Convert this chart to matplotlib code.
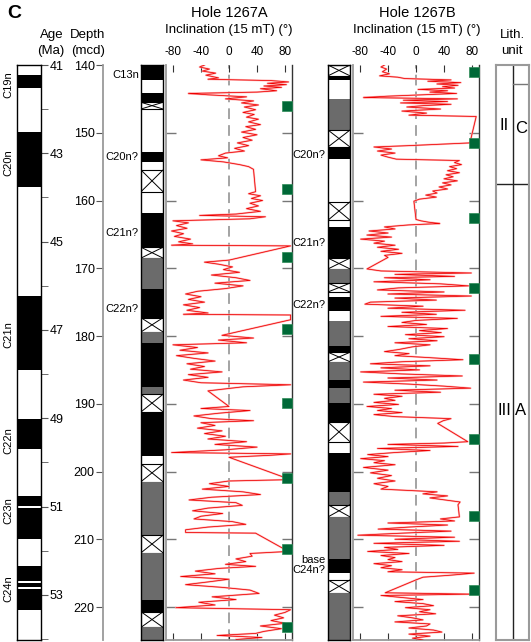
import matplotlib
matplotlib.use('Agg')
import matplotlib.pyplot as plt
from matplotlib.patches import Rectangle

plt.rcParams['font.family'] = ['Liberation Sans', 'DejaVu Sans']

# ---------------- data ----------------
# Geomagnetic polarity time scale (Ma): n = normal (black), r = reversed (white)
age_edges = [41.0, 41.23, 41.52, 42.52, 43.76, 46.23, 47.91, 49.01, 49.69, 50.76, 50.98,
             51.03, 51.73, 52.34, 52.68, 52.72, 52.81, 52.87, 53.34, 54.02]
age_kind = ['r', 'n', 'r', 'n', 'r', 'n', 'r', 'n', 'r', 'n', 'r', 'n', 'r', 'n', 'r', 'n', 'r', 'n', 'r']
age_major = [41, 43, 45, 47, 49, 51, 53]
age_minor = [42, 44, 46, 48, 50, 52, 54]
chron_names = ['C19n', 'C20n', 'C21n', 'C22n', 'C23n', 'C24n']
chron_ages = [41.45, 43.2, 47.1, 49.5, 51.1, 52.85]

depth_ticks = [140, 150, 160, 170, 180, 190, 200, 210, 220]

# Polarity columns (mcd): n normal, r reversed, u uncertain (grey), g gap
colA_edges = [140.0, 142.2, 144.1, 145.5, 146.5, 152.8, 154.3, 155.5, 158.7, 161.8, 166.9, 168.5,
              173.1, 177.3, 179.4, 181.0, 187.5, 188.6, 191.2, 197.7, 198.9, 201.5, 209.4, 212.0,
              219.0, 220.7, 223.0, 224.87]
colA_kind = ['n', 'r', 'n', 'g', 'r', 'n', 'r', 'g', 'r', 'n', 'g', 'u', 'n', 'g', 'u', 'n', 'u',
             'g', 'n', 'r', 'g', 'u', 'g', 'u', 'n', 'g', 'u']
colA_labels = ['C13n', 'C20n?', 'C21n?', 'C22n?']
colA_label_depth = [141.5, 153.6, 164.8, 176.0]

colB_edges = [140.0, 141.6, 142.2, 145.0, 149.6, 152.1, 153.9, 160.2, 162.9, 163.9, 168.5, 170.1,
              172.2, 173.5, 174.2, 176.3, 177.8, 181.5, 182.4, 183.8, 186.5, 187.7, 189.9, 192.7,
              195.6, 197.3, 203.0, 204.9, 206.7, 212.9, 215.0, 216.0, 217.9, 224.87]
colB_kind = ['g', 'n', 'r', 'u', 'g', 'n', 'r', 'g', 'r', 'n', 'g', 'u', 'g', 'r', 'n', 'r', 'u',
             'n', 'g', 'u', 'n', 'u', 'n', 'g', 'r', 'n', 'u', 'g', 'u', 'n', 'r', 'g', 'u']
colB_labels = ['C20n?', 'C21n?', 'C22n?', 'base\nC24n?']
colB_label_depth = [153.3, 166.3, 175.4, 213.8]

# Inclination (15 mT), Hole 1267A
depth_A = [140.0, 140.3, 140.6, 140.9, 141.2, 141.5, 141.9, 142.1, 142.3, 142.5, 142.7, 142.9,
           143.1, 143.3, 143.5, 143.8, 144.0, 144.2, 144.4, 144.7, 145.0, 145.3, 145.6, 145.9,
           146.2, 146.6, 147.0, 147.3, 147.7, 148.0, 148.4, 148.8, 149.1, 149.5, 149.9, 150.3,
           150.7, 151.1, 151.5, 151.9, 152.3, 152.7, 153.0, 153.4, 153.7, 154.0, 154.3, 154.7,
           155.0, 155.4, 158.7, 159.0, 159.3, 159.7, 160.0, 160.4, 160.8, 161.2, 161.6, 162.0,
           162.2, 162.4, 162.7, 163.0, 163.3, 163.7, 164.1, 164.5, 164.9, 165.3, 165.7, 166.1,
           166.4, 166.6, 166.7, 168.8, 169.1, 169.4, 169.8, 170.2, 170.6, 171.0, 171.4, 171.8,
           172.2, 172.6, 173.0, 173.4, 173.8, 174.2, 174.6, 175.0, 175.4, 175.8, 176.2, 176.6,
           176.8, 176.9, 177.6, 179.9, 180.3, 180.6, 181.0, 181.3, 181.7, 182.1, 182.5, 182.9,
           183.3, 183.7, 184.1, 184.5, 184.9, 185.3, 185.7, 186.1, 186.5, 186.9, 187.2, 187.5,
           188.1, 190.4, 190.7, 191.0, 191.4, 191.8, 192.2, 192.5, 192.8, 193.2, 193.6, 194.0,
           194.4, 194.8, 195.2, 195.6, 196.0, 196.4, 196.8, 197.2, 197.4, 197.6, 197.9, 201.2,
           201.4, 201.8, 202.2, 202.6, 203.0, 203.4, 203.8, 204.2, 204.6, 205.0, 205.4, 205.8,
           206.2, 206.6, 207.0, 207.4, 207.8, 208.2, 208.6, 209.0, 209.1, 211.8, 212.1, 212.5,
           212.9, 213.3, 213.7, 214.0, 214.3, 214.7, 215.1, 215.5, 215.9, 216.3, 216.7, 217.1,
           217.5, 218.0, 218.5, 218.9, 219.3, 219.7, 220.1, 220.4, 220.8, 221.2, 221.6, 222.0,
           222.4, 222.8, 223.2, 223.6, 223.9, 224.2, 224.5, 224.8]
inc_A = [-35, -42, -28, -38, -19, -33, -15, -30, 60, 85, 55, 82,
         50, 75, 45, 68, 40, -58, -30, 25, -5, 35, 18, 42,
         22, 38, 20, 36, 25, 42, 28, 45, 24, 38, 18, 40,
         20, 33, 12, 28, 8, 22, -5, -15, -2, -40, -8, 15,
         28, 35, 38, 28, 45, 32, 48, 30, 42, 25, 45, 10,
         -42, 52, 30, -80, -58, -75, -60, -82, -65, -78, -55, -72,
         -52, -82, 88, 0, -35, -15, 5, -8, 15, -25, 10, 30,
         -20, 20, -5, -45, -62, -40, -58, -35, -65, -42, -60, -30,
         -65, 88, 88, -10, 35, -15, 25, -80, -45, -70, -30, -75,
         -50, -20, -60, -35, -55, -10, -58, -30, -65, -40, 88, 20,
         -30, 0, -40, 30, -15, -50, -25, 35, -40, -20, -45, -10,
         -35, -5, -30, 25, -20, 40, -5, -82, 88, 60, 0, 88,
         0, -28, 0, -38, 20, 45, -25, -57, 10, 19, -30, -52,
         -9, -40, -50, 5, 24, -30, -62, -62, 38, 85, 30, 33,
         10, 24, -5, 38, -14, -48, -20, -69, 0, -30, -62, -10,
         30, 43, -24, 10, -43, -20, -76, 88, 80, 65, 78, 60,
         80, 45, 75, 50, 38, -17, 47, 10]

# Inclination (15 mT), Hole 1267B
depth_B = [140.0, 140.3, 140.6, 141.0, 141.3, 141.6, 141.8, 142.0, 142.2, 142.4, 142.6, 142.8,
           143.0, 143.2, 143.4, 143.6, 143.8, 144.0, 144.2, 144.4, 144.6, 144.8, 145.0, 145.2,
           145.4, 145.6, 145.8, 146.0, 146.2, 146.5, 146.8, 147.1, 147.4, 147.6, 151.5, 151.9,
           152.1, 152.4, 152.7, 153.0, 153.3, 153.6, 153.9, 154.1, 154.4, 154.7, 155.0, 155.3,
           155.6, 155.9, 156.2, 156.5, 156.8, 157.1, 157.4, 157.7, 158.0, 158.3, 158.6, 158.9,
           159.2, 159.5, 159.8, 160.1, 162.8, 163.0, 163.2, 163.4, 163.6, 163.9, 164.2, 164.5,
           164.8, 165.1, 165.4, 165.7, 166.0, 166.3, 166.6, 166.9, 167.2, 167.5, 167.8, 168.1,
           168.4, 170.1, 170.4, 170.7, 170.9, 171.2, 171.4, 171.7, 172.0, 172.3, 172.6, 172.9,
           173.2, 173.5, 173.8, 174.1, 174.4, 174.7, 175.0, 175.3, 175.6, 175.9, 176.2, 176.5,
           176.8, 177.1, 177.4, 177.7, 178.0, 178.3, 178.6, 178.9, 179.2, 179.5, 179.8, 180.1,
           180.4, 180.7, 181.0, 181.3, 181.6, 182.0, 182.3, 182.6, 182.9, 183.2, 183.5, 183.8,
           184.1, 184.4, 184.7, 185.0, 185.3, 185.6, 185.9, 186.2, 186.5, 186.8, 187.1, 187.4,
           187.7, 188.0, 188.3, 188.6, 188.9, 189.2, 189.5, 189.8, 190.1, 190.4, 190.7, 191.0,
           191.3, 191.6, 191.9, 192.2, 192.5, 192.9, 195.6, 195.8, 196.0, 196.3, 196.6, 196.9,
           197.2, 197.5, 197.8, 198.1, 198.4, 198.7, 199.0, 199.4, 199.8, 200.2, 200.6, 201.0,
           201.4, 201.8, 202.2, 202.6, 203.0, 203.3, 203.6, 203.9, 204.2, 204.5, 204.9, 206.7,
           207.0, 207.3, 207.6, 207.9, 208.2, 208.5, 208.8, 209.1, 209.4, 209.7, 210.0, 210.3,
           210.6, 210.9, 211.2, 211.5, 211.8, 212.1, 212.4, 212.7, 213.0, 213.3, 213.6, 213.9,
           214.2, 214.5, 214.8, 215.0, 215.3, 215.6, 216.0, 217.9, 218.1, 218.3, 218.6, 218.9,
           219.2, 219.5, 219.8, 220.1, 220.4, 220.7, 221.0, 221.3, 221.6, 221.9, 222.2, 222.5,
           222.8, 223.1, 223.4, 223.7, 224.0, 224.3, 224.6, 224.87]
inc_B = [-45, -50, -42, -48, -38, -52, -26, -16, 50, 17, 64, 30,
         60, 38, 55, 3, 45, 20, 58, 10, -40, -75, 59, -18,
         45, -22, 50, 10, -13, 35, -20, 15, -10, 86, 77, -10,
         -60, -35, -55, -30, -50, -40, -28, 62, 55, 65, 48, 58,
         45, 62, 43, 53, 40, 59, 38, 50, 33, 45, 24, 30,
         14, 29, 5, -3, 0, 7, 18, 34, -10, -45, -30, -67,
         -40, -70, -35, -79, -45, -60, -30, -55, -25, -50, -20, -45,
         -40, -70, -50, 79, -30, 55, -45, 20, -60, 35, 75, -25,
         -55, 40, -40, 79, -30, 29, -65, -73, 10, -40, 70, -20,
         29, -50, 59, 0, -20, 15, -40, 45, 5, 36, -15, 40,
         -10, 30, -30, 20, -5, -25, -45, -10, -30, 20, 67, -20,
         -65, 20, -50, 5, -79, -20, 66, -40, 30, -75, -10, 40,
         78, -30, 35, -60, -20, -45, -30, -60, -25, -70, -35, -55,
         -20, -60, -30, 50, 39, 31, 74, 40, -40, 60, -55, 20,
         -30, -69, -40, -79, -45, -60, -30, -75, -40, -65, -35, -55,
         -30, -60, -40, -50, 30, 10, 45, 20, 41, 63, 60, 62,
         35, 55, -40, 45, -10, -54, 50, -20, -83, 55, -30, 62,
         -60, 40, -45, -26, -69, -10, -50, -30, -40, -20, -60, -35,
         -50, -20, -40, 83, 50, 10, 0, -44, 80, -50, -20, 10,
         -30, 10, 25, -15, 20, 5, 28, -26, -5, 10, -30, 20,
         15, -10, 25, 37, -10, 20, -5, 10]

# Core-top markers (green squares)
core_A = [146.1, 158.3, 168.3, 178.9, 189.9, 200.9, 211.4, 223.0]
core_B = [141.0, 151.5, 162.6, 172.9, 183.4, 195.2, 206.6, 217.5]

# Lithologic units
lith_unit_boundary = 157.6
lith_sub_boundary = 142.8

inc_ticks = [-80, -40, 0, 40, 80]

# ---------------- layout ----------------
W, H = 531, 642
fig = plt.figure(figsize=(W / 100, H / 100), dpi=100)
Y0, Y1 = 65, 640
DEPTH_TOP, DEPTH_BOT = 140.0, 224.87
AGE_TOP, AGE_BOT = 41.0, 54.02
FS = 9


def add_ax(x0, x1, y0=Y0, y1=Y1):
    return fig.add_axes([x0 / W, 1 - y1 / H, (x1 - x0) / W, (y1 - y0) / H])


def ftext(x, y, s, **kw):
    fig.text(x / W, 1 - y / H, s, **kw)


def draw_column(ax, edges, kinds):
    ax.set_xlim(0, 1)
    ax.set_ylim(DEPTH_BOT, DEPTH_TOP)
    for d0, d1, k in zip(edges[:-1], edges[1:], kinds):
        if k == 'n':
            ax.add_patch(Rectangle((0, d0), 1, d1 - d0, fc='black', ec='none'))
        elif k == 'u':
            ax.add_patch(Rectangle((0, d0), 1, d1 - d0, fc='#6b6b6b', ec='none'))
        elif k == 'g':
            ax.add_patch(Rectangle((0, d0), 1, d1 - d0, fc='white', ec='black', lw=0.8))
            ax.plot([0, 1], [d0, d1], color='black', lw=0.7)
            ax.plot([0, 1], [d1, d0], color='black', lw=0.7)
    ax.set_xticks([])
    ax.set_yticks([])
    for s in ax.spines.values():
        s.set_color('black')
        s.set_linewidth(1.0)


def draw_incl(ax, depth, inc, cores):
    ax.set_xlim(-90, 90)
    ax.set_ylim(DEPTH_BOT, DEPTH_TOP)
    ax.axvline(0, color='#8a8a8a', lw=1.1, ls=(0, (7, 4)), zorder=1)
    ax.plot(inc, depth, color='#ffb3b3', lw=1.4, zorder=2)
    ax.plot(inc, depth, color='#ee0000', lw=0.55, zorder=3)
    ax.plot([83] * len(cores), cores, ls='none', marker='s', ms=7, mfc='#006837',
            mec='#2e8b57', mew=0.5, clip_on=False, zorder=5)
    ax.spines['top'].set_visible(False)
    ax.spines['left'].set_color('#9a9a9a')
    ax.spines['left'].set_linewidth(1.3)
    ax.spines['bottom'].set_color('#9a9a9a')
    ax.spines['bottom'].set_linewidth(1.3)
    ax.spines['right'].set_color('#333333')
    ax.spines['right'].set_linewidth(1.0)
    ax.set_xticks(inc_ticks)
    ax.set_xticklabels(['%d' % t for t in inc_ticks])
    ax.tick_params(axis='x', which='both', top=True, bottom=True, labeltop=True,
                   labelbottom=False, direction='in', length=5, color='#333333',
                   labelsize=8.5, pad=5)
    ax.set_yticks(depth_ticks[1:])
    ax.set_yticklabels([])
    ax.tick_params(axis='y', left=True, right=True, direction='in', length=7,
                   color='#777777', width=1.0)


# Age column
axg = add_ax(17, 41)
axg.set_xlim(0, 1)
axg.set_ylim(AGE_BOT, AGE_TOP)
for a0, a1, k in zip(age_edges[:-1], age_edges[1:], age_kind):
    if k == 'n':
        axg.add_patch(Rectangle((0, a0), 1, a1 - a0, fc='black', ec='none'))
axg.set_xticks([])
axg.yaxis.tick_right()
axg.set_yticks(age_major)
axg.set_yticklabels(['%d' % a for a in age_major])
axg.set_yticks(age_minor, minor=True)
axg.tick_params(axis='y', which='both', direction='out', length=5, color='#555555',
                labelsize=FS, pad=1)
for s in axg.spines.values():
    s.set_color('black')
    s.set_linewidth(1.0)
for name, a in zip(chron_names, chron_ages):
    axg.text(-0.38, a, name, rotation=90, ha='center', va='center', fontsize=8)

# Depth axis
axd = add_ax(103, 104)
axd.set_ylim(DEPTH_BOT, DEPTH_TOP)
axd.set_xticks([])
for s in ['top', 'right', 'bottom']:
    axd.spines[s].set_visible(False)
axd.spines['left'].set_color('#9a9a9a')
axd.spines['left'].set_linewidth(1.3)
axd.set_yticks(depth_ticks)
axd.set_yticklabels(['%d' % d for d in depth_ticks])
axd.tick_params(axis='y', direction='out', length=5, color='#555555', labelsize=FS, pad=1)

# Hole 1267A
axca = add_ax(141, 163)
draw_column(axca, colA_edges, colA_kind)
for lab, d in zip(colA_labels, colA_label_depth):
    axca.text(-0.1, d, lab, ha='right', va='center', fontsize=8)
axa = add_ax(166, 292)
draw_incl(axa, depth_A, inc_A, core_A)

# Hole 1267B
axcb = add_ax(328, 350)
draw_column(axcb, colB_edges, colB_kind)
for lab, d in zip(colB_labels, colB_label_depth):
    axcb.text(-0.1, d, lab, ha='right', va='center', fontsize=8, multialignment='right',
              linespacing=1.1)
axb = add_ax(353, 479)
draw_incl(axb, depth_B, inc_B, core_B)

# Lithologic units
axl = add_ax(496, 529)
axl.set_xlim(0, 1)
axl.set_ylim(DEPTH_BOT, DEPTH_TOP)
axl.set_xticks([])
axl.set_yticks([])
for s in axl.spines.values():
    s.set_color('#9a9a9a')
    s.set_linewidth(1.5)
xm = (513 - 496) / 33
axl.axvline(xm, color='#222222', lw=1.0)
axl.axhline(lith_unit_boundary, color='#222222', lw=1.0)
axl.plot([xm, 1], [lith_sub_boundary] * 2, color='#777777', lw=1.0)
axl.text(xm / 2, 149.0, 'II', ha='center', va='center', fontsize=12)
axl.text((xm + 1) / 2, 149.3, 'C', ha='center', va='center', fontsize=12)
axl.text(xm / 2, 191.0, 'III', ha='center', va='center', fontsize=12)
axl.text((xm + 1) / 2, 191.0, 'A', ha='center', va='center', fontsize=12)

# Header texts
ftext(7, 13, 'C', fontsize=14, fontweight='bold', va='center', ha='left')
ftext(64, 35, 'Age', fontsize=FS + 0.5, ha='right', va='center')
ftext(64, 51, '(Ma)', fontsize=FS + 0.5, ha='right', va='center')
ftext(88, 35, 'Depth', fontsize=FS + 0.5, ha='center', va='center')
ftext(88, 51, '(mcd)', fontsize=FS + 0.5, ha='center', va='center')
ftext(229, 13, 'Hole 1267A', fontsize=10.5, ha='center', va='center')
ftext(229, 30, 'Inclination (15 mT) (°)', fontsize=9.5, ha='center', va='center')
ftext(417, 13, 'Hole 1267B', fontsize=10.5, ha='center', va='center')
ftext(417, 30, 'Inclination (15 mT) (°)', fontsize=9.5, ha='center', va='center')
ftext(512, 35, 'Lith.', fontsize=FS + 0.5, ha='center', va='center')
ftext(512, 51, 'unit', fontsize=FS + 0.5, ha='center', va='center')

fig.savefig('out.png', dpi=100)
